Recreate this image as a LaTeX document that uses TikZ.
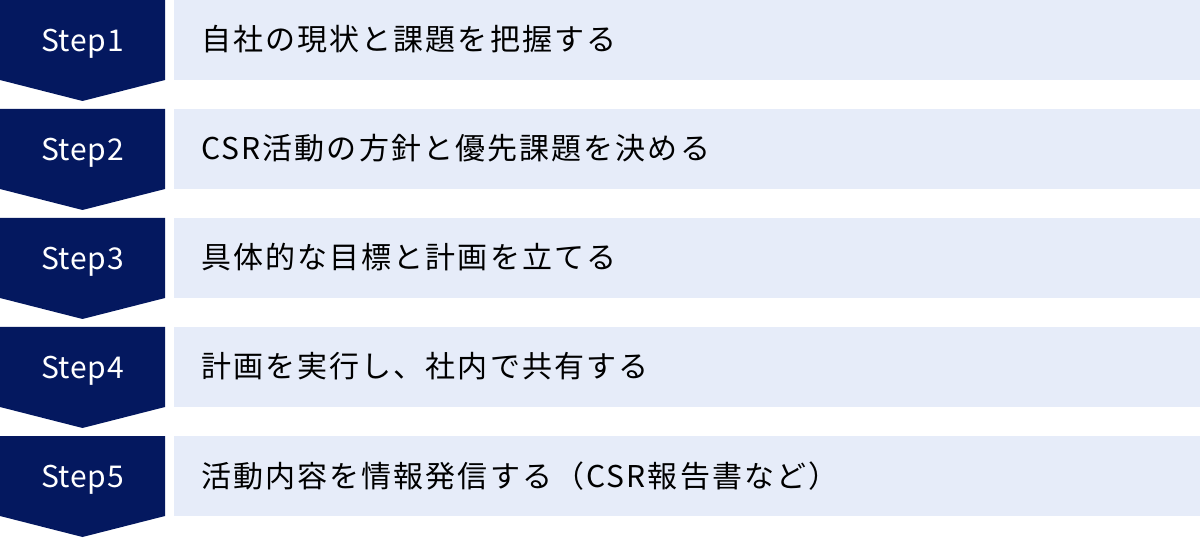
\documentclass[tikz,border=0pt]{standalone}
\usepackage{fontspec}
\newfontfamily\jpfont[LetterSpace=7]{Noto Sans CJK JP}
\newfontfamily\stepfont[LetterSpace=2.5]{Noto Sans CJK JP}
\definecolor{navy}{HTML}{04185F}
\definecolor{lightbox}{HTML}{E6ECF9}
\tikzset{
  steplabel/.style={text=white,inner sep=0pt,anchor=base,font=\stepfont\fontsize{30bp}{36bp}\selectfont},
  steptext/.style={text=black,inner sep=0pt,anchor=base west,font=\jpfont\fontsize{30bp}{36bp}\selectfont},
  chevron/.style={fill=navy,draw=none},
  bar/.style={fill=lightbox,draw=none}
}
\begin{document}
\begin{tikzpicture}[x=1bp,y=-1bp]
\useasboundingbox (0,0) rectangle (1200,538);
\foreach \i/\txt in {1/自社の現状と課題を把握する,2/CSR活動の方針と優先課題を決める,3/具体的な目標と計画を立てる,4/計画を実行し、社内で共有する,5/活動内容を情報発信する（CSR報告書など）}{
  \pgfmathsetmacro{\t}{(\i-1)*109}
  \fill[chevron] (0,\t) -- (165,\t) -- (165,\t+80) -- (82.5,\t+101) -- (0,\t+80) -- cycle;
  \fill[bar] (174,\t) rectangle (1200,\t+80);
  \node[steplabel] (s\i) at (82.5,\t+51.5) {Step\i};
  \node[steptext] (t\i) at (201,\t+51) {\txt};
}
\end{tikzpicture}
\end{document}
